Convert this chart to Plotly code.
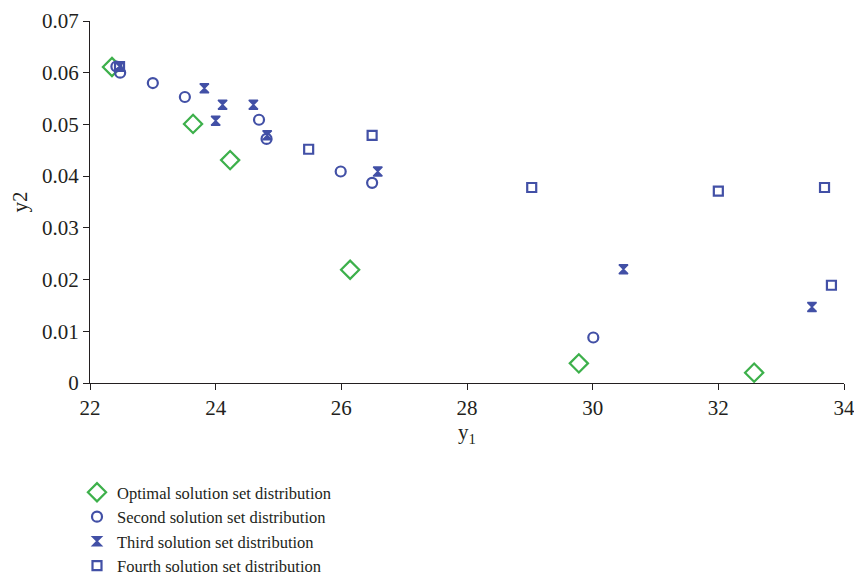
import plotly.graph_objects as go

opt_x = [22.35, 23.64, 24.23, 26.14, 29.78, 32.57]
opt_y = [0.0611, 0.0501, 0.0431, 0.0219, 0.0038, 0.0020]

sec_x = [22.42, 22.48, 23.0, 23.51, 24.69, 24.81, 25.99, 26.49, 30.01]
sec_y = [0.0612, 0.0600, 0.0580, 0.0553, 0.0509, 0.0472, 0.0409, 0.0387, 0.0088]

thr_x = [22.47, 23.82, 24.11, 24.0, 24.6, 24.82, 26.58, 30.49, 33.49]
thr_y = [0.0612, 0.0570, 0.0538, 0.0507, 0.0538, 0.0479, 0.0409, 0.0220, 0.0147]

fou_x = [22.47, 25.48, 26.49, 29.03, 32.0, 33.69, 33.8]
fou_y = [0.0612, 0.0452, 0.0479, 0.0378, 0.0371, 0.0378, 0.0189]

y_ticks = [0, 0.01, 0.02, 0.03, 0.04, 0.05, 0.06, 0.07]
y_tick_labels = ["0", "0.01", "0.02", "0.03", "0.04", "0.05", "0.06", "0.07"]

names = ["Optimal solution set distribution", "Second solution set distribution",
         "Third solution set distribution", "Fourth solution set distribution"]

green = "#3DB04B"
blue = "#4250A6"
FONT = "Liberation Serif"
TXT = "#231F20"

# figure sized so that page (with 8px body margin) fits the 862x584 window
W, H = 846, 568
L, R, T, B = 82, 10, 13, 193
PH = H - T - B
PW = W - L - R

fig = go.Figure()
fig.add_trace(go.Scatter(x=opt_x, y=opt_y, mode="markers", name=names[0],
                         marker=dict(symbol="diamond-open", size=14, color=green, line=dict(width=2.2, color=green))))
fig.add_trace(go.Scatter(x=sec_x, y=sec_y, mode="markers", name=names[1],
                         marker=dict(symbol="circle-open", size=10, color=blue, line=dict(width=2.2, color=blue))))
fig.add_trace(go.Scatter(x=thr_x, y=thr_y, mode="markers", name=names[2],
                         marker=dict(symbol="hourglass", size=9, color=blue, line=dict(width=1.5, color=blue))))
fig.add_trace(go.Scatter(x=fou_x, y=fou_y, mode="markers", name=names[3],
                         marker=dict(symbol="square-open", size=9, color=blue, line=dict(width=2.2, color=blue))))

fig.update_layout(
    width=W, height=H,
    margin=dict(l=L, r=R, t=T, b=B, autoexpand=False),
    paper_bgcolor="white", plot_bgcolor="white",
    font=dict(family=FONT, size=21, color=TXT),
    showlegend=True,
    legend=dict(x=(69 - L) / PW, y=((H - B) - 467) / PH,
                xanchor="left", yanchor="top",
                font=dict(family=FONT, size=16.5, color=TXT),
                tracegroupgap=0, itemwidth=30, bgcolor="rgba(0,0,0,0)"),
    xaxis=dict(range=[22, 34], dtick=2, tick0=22, showgrid=False, zeroline=False,
               showline=True, linecolor=TXT, linewidth=1.2,
               ticks="outside", ticklen=6, tickcolor=TXT,
               ticklabeloverflow="allow",
               tickfont=dict(family=FONT, size=21),
               title=dict(text="y<sub>1</sub>", font=dict(family=FONT, size=21), standoff=2)),
    yaxis=dict(range=[0, 0.07], showgrid=False, zeroline=False,
               tickvals=y_ticks, ticktext=y_tick_labels,
               showline=True, linecolor=TXT, linewidth=1.2,
               ticks="outside", ticklen=6, tickcolor=TXT,
               ticklabeloverflow="allow",
               tickfont=dict(family=FONT, size=21),
               title=dict(text="y2", font=dict(family=FONT, size=21), standoff=12)),
)

fig.write_html("out.html")
